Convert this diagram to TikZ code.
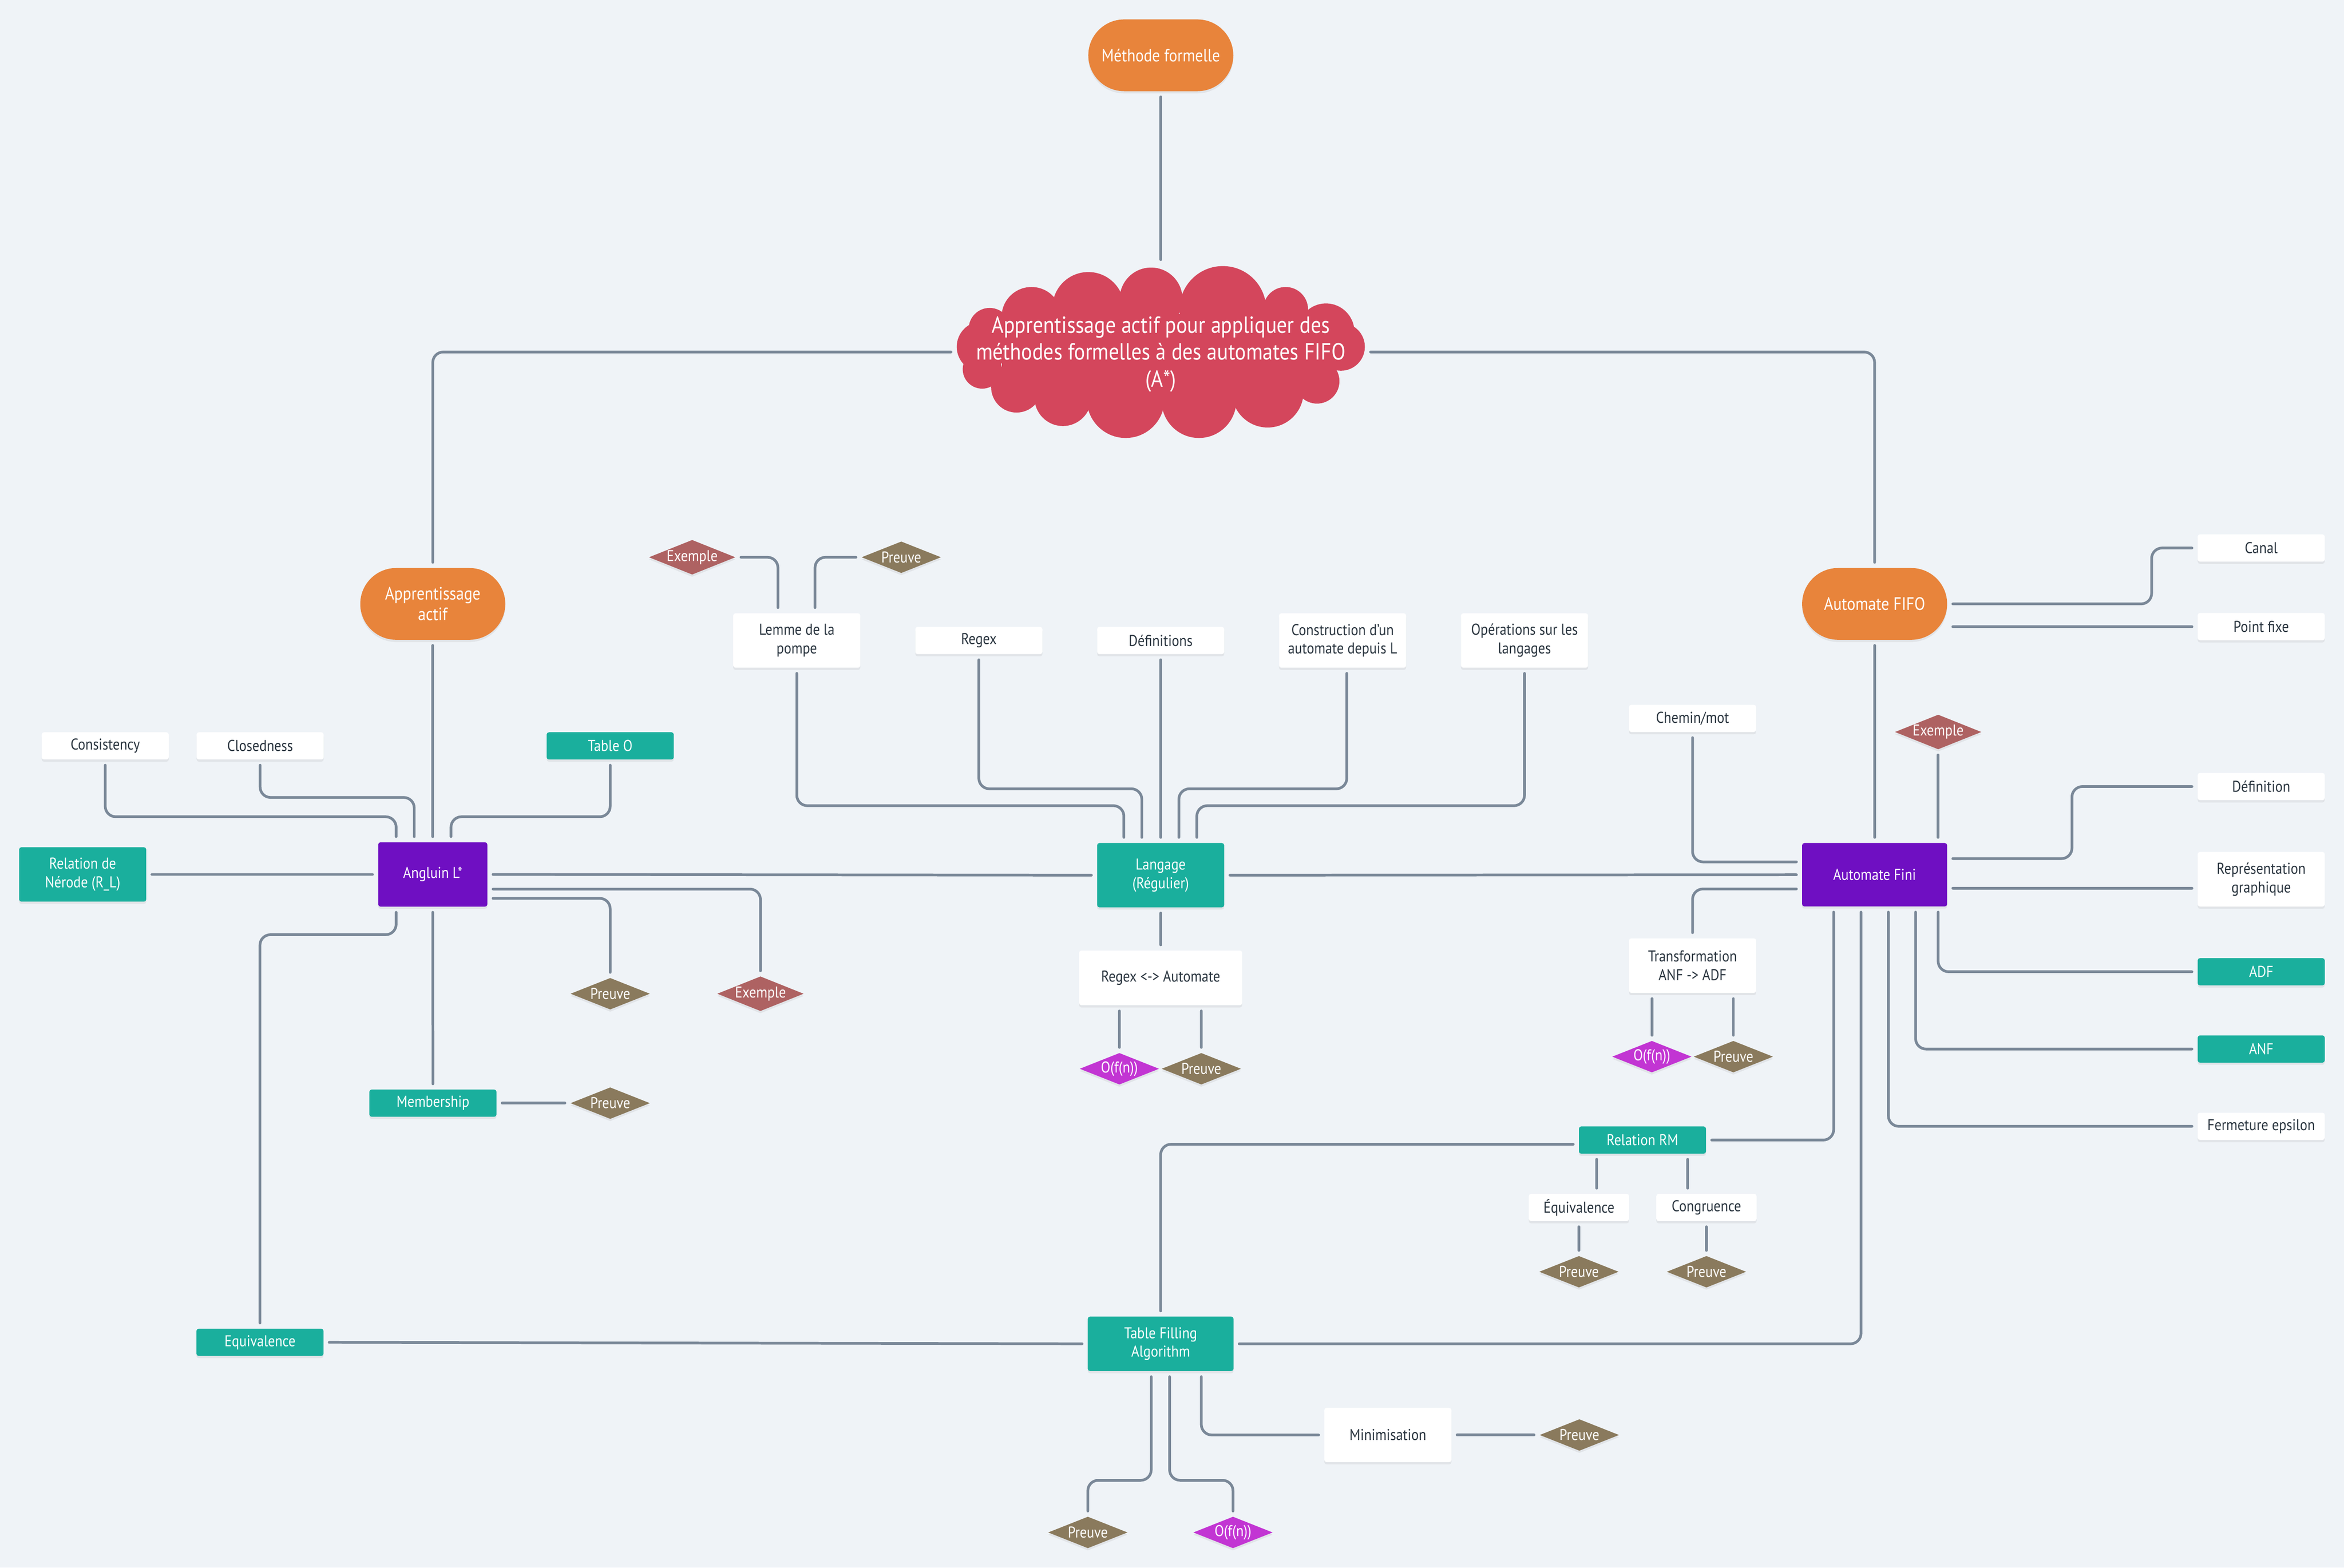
\documentclass[tikz,border=0pt]{standalone}
\usepackage{fontspec}
\setmainfont{PT Sans}[FakeStretch=0.88]
\usetikzlibrary{shapes.geometric,shapes.misc,shadows,calc}
\definecolor{bgc}{HTML}{EFF3F7}
\definecolor{linec}{HTML}{7A8898}
\definecolor{orangec}{HTML}{E8843B}
\definecolor{purplec}{HTML}{6F0FC2}
\definecolor{tealc}{HTML}{1AAF9D}
\definecolor{cloudc}{HTML}{D4465C}
\definecolor{proofc}{HTML}{8A7A5D}
\definecolor{examc}{HTML}{AE6262}
\definecolor{cplxc}{HTML}{C235D3}
\definecolor{textc}{HTML}{2B3640}
\begin{document}
\begin{tikzpicture}[x=1pt,y=-1pt,
  every node/.style={inner sep=0pt, outer sep=0pt},
  sh/.style={drop shadow={shadow xshift=0pt,shadow yshift=-1.5pt,opacity=0.10,fill=black!60}},
  fnt/.style={font=\fontsize{10.5}{12.5}\selectfont},
  whitebox/.style={rectangle, rounded corners=1.5pt, fill=white, text=textc, minimum width=85pt, minimum height=18.2pt, align=center, fnt, sh},
  tealbox/.style={whitebox, fill=tealc, text=white},
  purplebox/.style={whitebox, fill=purplec, text=white},
  stadium/.style={rounded rectangle, fill=orangec, text=white, minimum width=97pt, minimum height=48pt, align=center, font=\fontsize{12}{14}\selectfont, sh},
  dia/.style={diamond, aspect=2.5, minimum width=53pt, minimum height=21pt, text=white, fnt, sh},
  proof/.style={dia, fill=proofc},
  exam/.style={dia, fill=examc},
  cplx/.style={dia, fill=cplxc},
  conn/.style={draw=linec, line width=1.8pt, line cap=round, rounded corners=7pt, shorten <=3.8pt, shorten >=3.8pt},
]
\fill[bgc] (0,0) rectangle (1568,1048.7);
\useasboundingbox (0,0) rectangle (1568,1048.7);

% ---------- cloud ----------
\node[minimum width=273pt, minimum height=116pt] (cloud) at (776.5,235.5) {};
\fill[cloudc] (670,210) rectangle (885,265);
\foreach \cx/\cy/\r in {770/200/21, 818/207/29, 728/206/24, 690/212/20, 860/207/15, 887/222/19, 897/232/16, 881/255/15, 848/262/24, 802/268/25, 753/267/26, 711/266/19, 680/259/17, 657/247/13, 657/232/17, 662/220/14}
  \fill[cloudc] (\cx,\cy) circle[radius=\r];
\node[text=white, align=center, font=\fontsize{15.6}{18}\selectfont] (cloudtxt) at (776.5,237) {Apprentissage actif pour appliquer des\\méthodes formelles à des automates FIFO\\(A*)};

% ---------- main nodes ----------
\node[stadium, font=\fontsize{11.8}{14}\selectfont] (mf) at (776.5,37) {Méthode formelle};
\node[stadium] (aa) at (289.5,404) {Apprentissage\\actif};
\node[stadium] (fifo) at (1254,404) {Automate FIFO};
\node[purplebox, minimum width=73pt, minimum height=43pt] (ang) at (289.5,585) {Angluin L*};
\node[tealbox, minimum height=43pt] (lang) at (776.4,585.5) {Langage\\(Régulier)};
\node[purplebox, minimum width=97pt, minimum height=42.4pt] (af) at (1254,585.2) {Automate Fini};

% ---------- Angluin side ----------
\node[whitebox] (cons) at (70.4,499) {Consistency};
\node[whitebox] (clos) at (174,499) {Closedness};
\node[tealbox] (tabO) at (408.2,499) {Table O};
\node[tealbox, minimum height=36.4pt] (ner) at (55.3,585) {Relation de\\Nérode (R\_L)};
\node[tealbox] (memb) at (289.6,738) {Membership};
\node[proof] (pMemb) at (408.2,738) {Preuve};
\node[proof] (pAng) at (408.2,664.8) {Preuve};
\node[exam] (eAng) at (508.7,664.8) {Exemple};
\node[tealbox] (equiv) at (173.9,898) {Equivalence};

% ---------- Langage side ----------
\node[exam] (eLem) at (463,372.8) {Exemple};
\node[proof] (pLem) at (602.9,372.8) {Preuve};
\node[whitebox, minimum height=36.4pt] (lem) at (533,428.5) {Lemme de la\\pompe};
\node[whitebox] (regex) at (654.8,428.5) {Regex};
\node[whitebox] (defs) at (776.4,428.5) {Définitions};
\node[whitebox, minimum height=36.4pt] (constr) at (898.1,428.5) {Construction d'un\\automate depuis L};
\node[whitebox, minimum height=36.4pt] (ops) at (1019.8,428.5) {Opérations sur les\\langages};
\node[whitebox, minimum width=109pt, minimum height=36.6pt] (ra) at (776.4,654.2) {Regex <-> Automate};
\node[cplx] (oRa) at (748.8,715) {O(f(n))};
\node[proof] (pRa) at (803.6,715) {Preuve};

% ---------- Automate side ----------
\node[whitebox] (canal) at (1512.6,366.6) {Canal};
\node[whitebox] (pfix) at (1512.6,419.2) {Point fixe};
\node[whitebox] (chem) at (1132.2,480.6) {Chemin/mot};
\node[exam] (eAF) at (1296.5,489.7) {Exemple};
\node[whitebox] (def) at (1512.6,526.2) {Définition};
\node[whitebox, minimum height=36.5pt] (rep) at (1512.6,588.2) {Représentation\\graphique};
\node[tealbox] (adf) at (1512.6,650.1) {ADF};
\node[tealbox] (anf) at (1512.6,701.8) {ANF};
\node[whitebox] (ferm) at (1512.6,753.5) {Fermeture epsilon};
\node[whitebox, minimum height=36.5pt] (trans) at (1132.2,646) {Transformation\\ANF -> ADF};
\node[cplx] (oTr) at (1105,706.9) {O(f(n))};
\node[proof] (pTr) at (1159.5,706.9) {Preuve};
\node[tealbox] (rm) at (1098.7,762.7) {Relation RM};
\node[whitebox, minimum width=67pt] (eqv) at (1056.2,807.8) {Équivalence};
\node[whitebox, minimum width=67pt] (cong) at (1141.5,807.8) {Congruence};
\node[proof] (pEq) at (1056.2,850.8) {Preuve};
\node[proof] (pCong) at (1141.5,850.8) {Preuve};
\node[tealbox, minimum width=97.5pt, minimum height=36.4pt] (tf) at (776.4,899) {Table Filling\\Algorithm};
\node[whitebox, minimum height=36.3pt] (mini) at (928.4,960) {Minimisation};
\node[proof] (pMin) at (1056.5,960) {Preuve};
\node[proof] (pTf) at (727.7,1025.2) {Preuve};
\node[cplx] (oTf) at (824.8,1025.2) {O(f(n))};

% ---------- connectors ----------
\draw[conn] (mf.south) -- (cloud.north);
\draw[conn] (cloud.west) -| (aa.north);
\draw[conn] (cloud.east) -| (fifo.north);
\draw[conn] (aa.south) -- (ang.north);
\draw[conn] (cons.south) |- (170,546.4) -| ([xshift=-24.5pt]ang.north);
\draw[conn] (clos.south) |- (230,533.5) -| ([xshift=-12.4pt]ang.north);
\draw[conn] (tabO.south) |- (350,546.4) -| ([xshift=12.2pt]ang.north);
\draw[conn] (ner.east) -- (ang.west);
\draw[conn] (ang.east) -- (lang.west);
\draw[conn] ([yshift=-9.8pt]ang.east) -| (eAng.north);
\draw[conn] ([yshift=-16pt]ang.east) -| (pAng.north);
\draw[conn] (ang.south) -- (memb.north);
\draw[conn] (memb.east) -- (pMemb.west);
\draw[conn] ([xshift=-24.5pt]ang.south) |- (220,625.3) -| (equiv.north);
\draw[conn] (equiv.east) -- (tf.west);

\draw[conn] (eLem.east) -| ([xshift=-12.6pt]lem.north);
\draw[conn] (pLem.west) -| ([xshift=12.2pt]lem.north);
\draw[conn] (lem.south) |- (600,539) -| ([xshift=-24.6pt]lang.north);
\draw[conn] (regex.south) |- (700,527.7) -| ([xshift=-12.6pt]lang.north);
\draw[conn] (defs.south) -- (lang.north);
\draw[conn] ([xshift=2.8pt]constr.south) |- (850,527.7) -| ([xshift=12.2pt]lang.north);
\draw[conn] (ops.south) |- (900,539) -| ([xshift=24.2pt]lang.north);
\draw[conn] (lang.east) -- (af.west);
\draw[conn] (lang.south) -- (ra.north);
\draw[conn] ([xshift=-27.6pt]ra.south) -- (oRa.north);
\draw[conn] ([xshift=27.2pt]ra.south) -- (pRa.north);

\draw[conn] (fifo.east) -| (1439.3,385) |- (canal.west);
\draw[conn] (fifo.east |- pfix.west) -- (pfix.west);
\draw[conn] (fifo.south) -- (af.north);
\draw[conn] (chem.south) |- ([yshift=8.6pt]af.west);
\draw[conn] ([yshift=-9.5pt]af.west) -| (trans.north);
\draw[conn] (eAF.south) -- ([xshift=42.5pt]af.north);
\draw[conn] ([yshift=10.8pt]af.east) -| (1386,550) |- (def.west);
\draw[conn] ([yshift=-9pt]af.east) -- ([yshift=-6pt]rep.west);
\draw[conn] ([xshift=42.5pt]af.south) |- (adf.west);
\draw[conn] ([xshift=27.4pt]af.south) |- (anf.west);
\draw[conn] ([xshift=9.2pt]af.south) |- (ferm.west);
\draw[conn] ([xshift=-9.1pt]af.south) |- (tf.east);
\draw[conn] ([xshift=-27.4pt]af.south) |- (rm.east);
\draw[conn] ([xshift=-27.2pt]trans.south) -- (oTr.north);
\draw[conn] ([xshift=27.3pt]trans.south) -- (pTr.north);
\draw[conn] ([yshift=-2.8pt]rm.west) -| (tf.north);
\draw[conn] ([xshift=-30.7pt]rm.south) -- ([xshift=11.8pt]eqv.north);
\draw[conn] ([xshift=30.3pt]rm.south) -- ([xshift=-12.5pt]cong.north);
\draw[conn] (eqv.south) -- (pEq.north);
\draw[conn] (cong.south) -- (pCong.north);
\draw[conn] ([xshift=27.2pt]tf.south) |- (mini.west);
\draw[conn] (mini.east) -- (pMin.west);
\draw[conn] ([xshift=-6.3pt]tf.south) |- (740,990.3) -| (pTf.north);
\draw[conn] ([xshift=6pt]tf.south) |- (800,990.3) -| (oTf.north);
\end{tikzpicture}
\end{document}
